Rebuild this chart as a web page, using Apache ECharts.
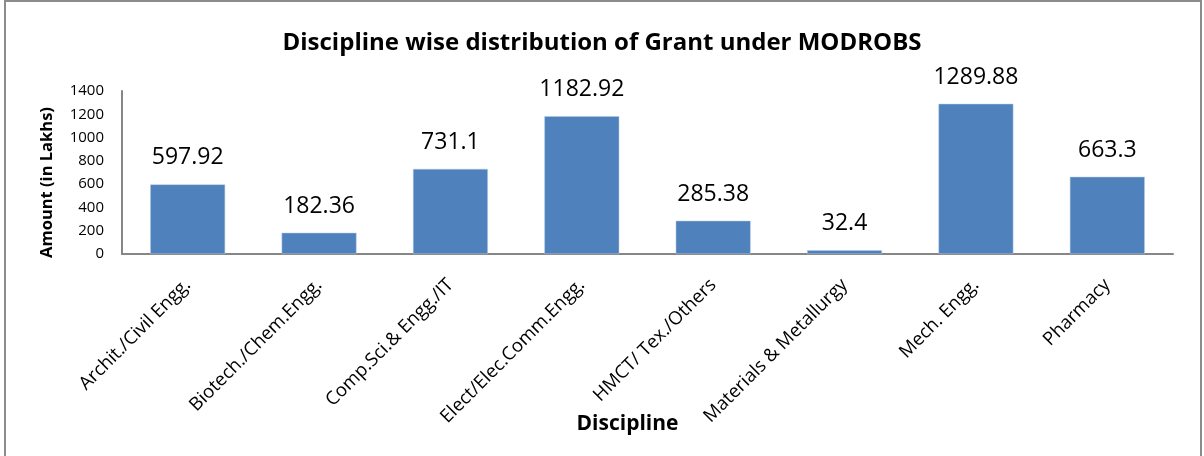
<!DOCTYPE html>
<html>
<head>
<meta charset="utf-8">
<script src="https://cdn.jsdelivr.net/npm/echarts@6/dist/echarts.min.js"></script>
<style>
  html, body { margin: 0; padding: 0; background: #fff; }
  #chart { width: 1204px; height: 456px; }
</style>
</head>
<body>
<div id="chart"></div>
<script>
const categories = [
  'Archit./Civil Engg.',
  'Biotech./Chem.Engg.',
  'Comp.Sci.& Engg./IT',
  'Elect/Elec.Comm.Engg.',
  'HMCT/ Tex./Others',
  'Materials & Metallurgy',
  'Mech. Engg.',
  'Pharmacy'
];
const amounts = [597.92, 182.36, 731.1, 1182.92, 285.38, 32.4, 1289.88, 663.3];
const yTicks = { min: 0, max: 1400, interval: 200 };

const font = '"Open Sans", "Noto Sans", sans-serif';
const chart = echarts.init(document.getElementById('chart'));

chart.setOption({
  animation: false,
  textStyle: { fontFamily: font },
  title: {
    text: 'Discipline wise distribution of Grant under MODROBS',
    left: 'center',
    top: 26,
    textStyle: { fontFamily: font, fontSize: 24, fontWeight: 'bold', color: '#000' }
  },
  graphic: [{
    type: 'rect',
    shape: { x: 5, y: 1, width: 1196, height: 470 },
    style: { fill: 'none', stroke: '#8c8c8c', lineWidth: 2 },
    silent: true
  }],
  grid: { left: 122, right: 31, top: 91, bottom: 202 },
  xAxis: {
    type: 'category',
    data: categories,
    name: 'Discipline',
    nameLocation: 'middle',
    nameGap: 160,
    nameMoveOverlap: false,
    nameTextStyle: {
      fontFamily: font, fontSize: 21, fontWeight: 'bold', color: '#000',
      padding: [0, 40, 0, 0]
    },
    axisLine: { lineStyle: { color: '#868686', width: 2 } },
    axisTick: { show: false },
    axisLabel: {
      interval: 0,
      rotate: 45,
      margin: 28,
      fontSize: 18.5,
      color: '#000',
      fontFamily: font
    }
  },
  yAxis: {
    type: 'value',
    min: yTicks.min,
    max: yTicks.max,
    interval: yTicks.interval,
    name: 'Amount (in Lakhs)',
    nameLocation: 'middle',
    nameGap: 66,
    nameMoveOverlap: false,
    nameTextStyle: {
      fontFamily: font, fontSize: 16.5, fontWeight: 'bold', color: '#000',
      padding: [0, 20, 0, 0]
    },
    axisLine: { show: true, lineStyle: { color: '#868686', width: 2 } },
    axisTick: { show: false },
    splitLine: { show: false },
    axisLabel: {
      fontSize: 15,
      color: '#000',
      margin: 18,
      fontFamily: font,
      formatter: (v) => String(v)
    }
  },
  series: [{
    type: 'bar',
    data: amounts,
    barCategoryGap: '43%',
    itemStyle: { color: '#4F81BD', borderColor: '#B9CDE5', borderWidth: 0.5 },
    label: {
      show: true,
      position: 'top',
      distance: 15,
      fontSize: 23,
      color: '#000',
      fontFamily: font
    }
  }]
});
</script>
</body>
</html>
